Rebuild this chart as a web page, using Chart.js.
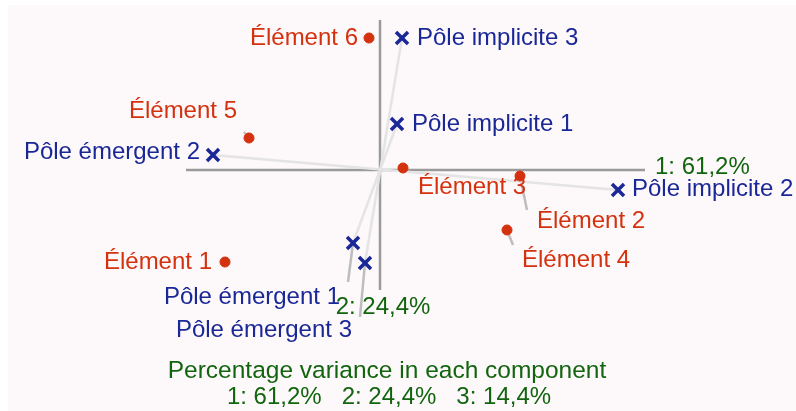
<!DOCTYPE html>
<html lang="fr">
<head>
<meta charset="UTF-8" />
<title>Biplot</title>
<script src="https://cdn.jsdelivr.net/npm/chart.js"></script>
<style>
  html, body { margin: 0; padding: 0; background: #fff; }
  #wrap { width: 796px; height: 411px; position: relative; }
</style>
</head>
<body>
<div id="wrap"><canvas id="biplot"></canvas></div>
<script>
// elements (red dots)
const elementNames = ["Élément 1", "Élément 2", "Élément 3", "Élément 4", "Élément 5", "Élément 6"];
const elementX = [-0.775, 0.70, 0.115, 0.635, -0.655, -0.055];
const elementY = [-0.46, -0.03, 0.01, -0.30, 0.16, 0.66];

// construct poles (blue crosses)
const constructNames = ["Pôle émergent 1", "Pôle émergent 2", "Pôle émergent 3",
                        "Pôle implicite 1", "Pôle implicite 2", "Pôle implicite 3"];
const constructX = [-0.135, -0.835, -0.075, 0.085, 1.19, 0.11];
const constructY = [-0.365, 0.075, -0.465, 0.23, -0.10, 0.66];
// which poles belong together (émergent, implicite)
const constructPairs = [[0, 3], [1, 4], [2, 5]];

// component axes
const axisXRange = [-0.97, 1.325];
const axisYRange = [-0.60, 0.75];
const axisLabels = ["1: 61,2%", "2: 24,4%"];
const varianceTitle = "Percentage variance in each component";
const varianceLine = "1: 61,2%   2: 24,4%   3: 14,4%";

const RED = "#d4310f";
const BLUE = "#1a2796";
const GREEN = "#12650f";
const FONT = '24px "Liberation Sans", Arial, sans-serif';

// label placement, pixels relative to the mark: [dx, dy, align, leaderDx, leaderDy]
const elementLabelPos = [
  [-13, 0, "right"],
  [17, 45, "left", 7, 34],
  [15, 19, "left"],
  [15, 30, "left", 6, 15],
  [-12, -27, "right", -5, -6],
  [-11, 0, "right"]
];
const constructLabelPos = [
  [-13, 54, "right", -5, 39],
  [-13, -3, "right"],
  [-13, 67, "right", -5, 54],
  [15, 0, "left"],
  [14, -1, "left"],
  [15, 0, "left"]
];

const datasets = [];
datasets.push({
  data: [{ x: axisXRange[0], y: 0 }, { x: axisXRange[1], y: 0 }],
  showLine: true, borderColor: "#9a9a9a", borderWidth: 2.5, pointRadius: 0, order: 10
});
datasets.push({
  data: [{ x: 0, y: axisYRange[0] }, { x: 0, y: axisYRange[1] }],
  showLine: true, borderColor: "#9a9a9a", borderWidth: 2.5, pointRadius: 0, order: 10
});
constructPairs.forEach(([a, b]) => {
  datasets.push({
    data: [{ x: constructX[a], y: constructY[a] }, { x: constructX[b], y: constructY[b] }],
    showLine: true, borderColor: "#e4e4e4", borderWidth: 2.5, pointRadius: 0, order: 9
  });
});
const ELEM = datasets.length;
datasets.push({
  data: elementX.map((x, i) => ({ x, y: elementY[i] })),
  backgroundColor: RED, borderColor: RED, pointRadius: 5, pointStyle: "circle", order: 1
});
const CONS = datasets.length;
datasets.push({
  data: constructX.map((x, i) => ({ x, y: constructY[i] })),
  borderColor: BLUE, backgroundColor: BLUE, pointRadius: 8.5, borderWidth: 3.5,
  pointStyle: "crossRot", order: 0
});

const backdrop = {
  id: "backdrop",
  beforeDraw(chart) {
    const ctx = chart.ctx;
    ctx.save();
    ctx.fillStyle = "#fdf8f9";
    ctx.fillRect(8, 5, chart.width - 8, chart.height - 5);
    ctx.restore();
  }
};

function drawLeaders(ctx, meta, layout) {
  meta.data.forEach((pt, i) => {
    const l = layout[i];
    if (l.length < 5) return;
    ctx.beginPath();
    ctx.moveTo(pt.x, pt.y);
    ctx.lineTo(pt.x + l[3], pt.y + l[4]);
    ctx.stroke();
  });
}

const leaders = {
  id: "leaders",
  beforeDatasetsDraw(chart) {
    const ctx = chart.ctx;
    ctx.save();
    ctx.strokeStyle = "#bdbdbd";
    ctx.lineWidth = 2.5;
    drawLeaders(ctx, chart.getDatasetMeta(ELEM), elementLabelPos);
    drawLeaders(ctx, chart.getDatasetMeta(CONS), constructLabelPos);
    ctx.restore();
  }
};

const labels = {
  id: "labels",
  afterDatasetsDraw(chart) {
    const ctx = chart.ctx;
    const xs = chart.scales.x, ys = chart.scales.y;
    ctx.save();
    ctx.font = FONT;
    ctx.textBaseline = "middle";
    const put = (meta, names, layout, color) => {
      ctx.fillStyle = color;
      meta.data.forEach((pt, i) => {
        const l = layout[i];
        ctx.textAlign = l[2];
        ctx.fillText(names[i], pt.x + l[0], pt.y + l[1]);
      });
    };
    put(chart.getDatasetMeta(ELEM), elementNames, elementLabelPos, RED);
    put(chart.getDatasetMeta(CONS), constructNames, constructLabelPos, BLUE);

    ctx.fillStyle = GREEN;
    ctx.textAlign = "left";
    ctx.fillText(axisLabels[0], xs.getPixelForValue(axisXRange[1]) + 10, ys.getPixelForValue(0) - 3);
    ctx.textAlign = "center";
    ctx.fillText(axisLabels[1], xs.getPixelForValue(0) + 3, ys.getPixelForValue(axisYRange[0]) + 17);
    ctx.font = '24.5px "Liberation Sans", Arial, sans-serif';
    ctx.fillText(varianceTitle, 387, 371);
    ctx.font = FONT;
    ctx.fillText(varianceLine, 389, 397);
    ctx.restore();
  }
};

new Chart(document.getElementById("biplot"), {
  type: "scatter",
  data: { datasets },
  options: {
    responsive: true,
    maintainAspectRatio: false,
    animation: false,
    layout: { padding: 0, autoPadding: false },
    plugins: { legend: { display: false }, tooltip: { enabled: false } },
    scales: {
      x: { type: "linear", display: false, min: -1.9, max: 2.08 },
      y: { type: "linear", display: false, min: -1.205, max: 0.85 }
    }
  },
  plugins: [backdrop, leaders, labels]
});
</script>
</body>
</html>
